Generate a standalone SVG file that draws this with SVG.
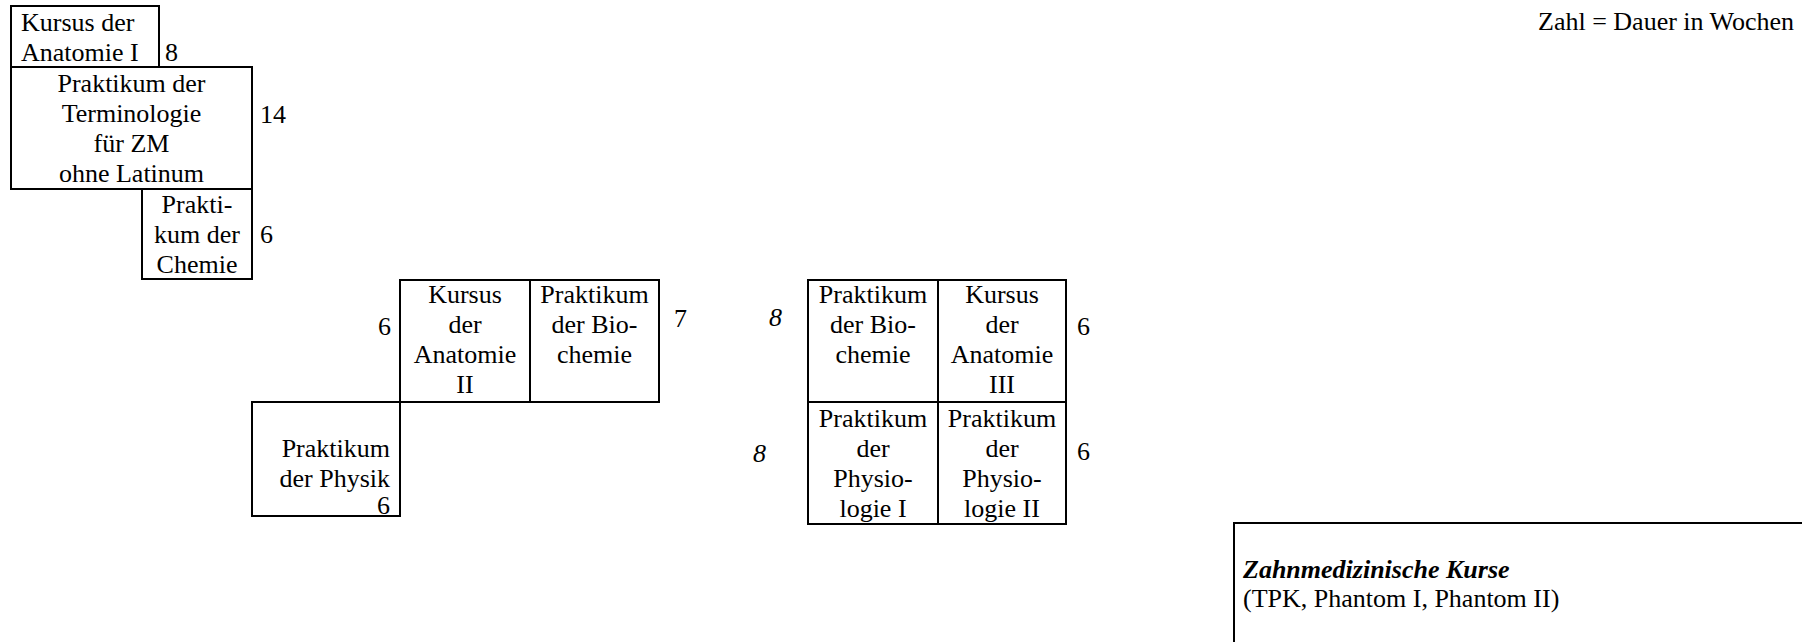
<svg xmlns="http://www.w3.org/2000/svg" width="1802" height="642" viewBox="0 0 1802 642">
<style>
text{font-family:'Liberation Serif','DejaVu Serif',serif;font-size:26px;fill:#000}
.c{text-anchor:middle}
.r{text-anchor:end}
.i{font-style:italic}
.bi{font-style:italic;font-weight:bold}
.box{fill:none;stroke:#000;stroke-width:2}
</style>
<rect width="1802" height="642" fill="#fff"/>
<g font-family="Liberation Serif, DejaVu Serif, serif">
<g id="legend"><text x="1538" y="30">Zahl = Dauer in Wochen</text></g>
<g id="anatomie1">
<rect class="box" x="11" y="6" width="148" height="61"/>
<text x="21" y="31">Kursus der</text>
<text x="21" y="61">Anatomie I</text>
<text x="165" y="61">8</text>
</g>
<g id="terminologie">
<rect class="box" x="11" y="67" width="241" height="122"/>
<text class="c" x="131.5" y="92">Praktikum der</text>
<text class="c" x="131.5" y="122">Terminologie</text>
<text class="c" x="131.5" y="152">für ZM</text>
<text class="c" x="131.5" y="182">ohne Latinum</text>
<text x="260" y="123">14</text>
</g>
<g id="chemie">
<rect class="box" x="142" y="189" width="110" height="90"/>
<text class="c" x="197" y="213">Prakti-</text>
<text class="c" x="197" y="243">kum der</text>
<text class="c" x="197" y="273">Chemie</text>
<text x="260" y="243">6</text>
</g>
<g id="anatomie2">
<rect class="box" x="400" y="280" width="130" height="122"/>
<text class="c" x="465" y="303">Kursus</text>
<text class="c" x="465" y="333">der</text>
<text class="c" x="465" y="363">Anatomie</text>
<text class="c" x="465" y="393">II</text>
<text class="r" x="391" y="335">6</text>
</g>
<g id="biochemie1">
<rect class="box" x="530" y="280" width="129" height="122"/>
<text class="c" x="594.5" y="303">Praktikum</text>
<text class="c" x="594.5" y="333">der Bio-</text>
<text class="c" x="594.5" y="363">chemie</text>
<text x="674" y="327">7</text>
</g>
<g id="physik">
<rect class="box" x="252" y="402" width="148" height="114"/>
<text class="r" x="390" y="457">Praktikum</text>
<text class="r" x="390" y="487">der Physik</text>
<text class="r" x="390" y="514">6</text>
</g>
<g id="biochemie2">
<rect class="box" x="808" y="280" width="130" height="122"/>
<text class="c" x="873" y="303">Praktikum</text>
<text class="c" x="873" y="333">der Bio-</text>
<text class="c" x="873" y="363">chemie</text>
<text class="i" x="769" y="326">8</text>
</g>
<g id="anatomie3">
<rect class="box" x="938" y="280" width="128" height="122"/>
<text class="c" x="1002" y="303">Kursus</text>
<text class="c" x="1002" y="333">der</text>
<text class="c" x="1002" y="363">Anatomie</text>
<text class="c" x="1002" y="393">III</text>
<text x="1077" y="335">6</text>
</g>
<g id="physiologie1">
<rect class="box" x="808" y="402" width="130" height="122"/>
<text class="c" x="873" y="427">Praktikum</text>
<text class="c" x="873" y="457">der</text>
<text class="c" x="873" y="487">Physio-</text>
<text class="c" x="873" y="517">logie I</text>
<text class="i" x="753" y="462">8</text>
</g>
<g id="physiologie2">
<rect class="box" x="938" y="402" width="128" height="122"/>
<text class="c" x="1002" y="427">Praktikum</text>
<text class="c" x="1002" y="457">der</text>
<text class="c" x="1002" y="487">Physio-</text>
<text class="c" x="1002" y="517">logie II</text>
<text x="1077" y="460">6</text>
</g>
<g id="zahnmedizin">
<rect class="box" x="1234" y="523" width="600" height="160"/>
<text class="bi" x="1243" y="578">Zahnmedizinische Kurse</text>
<text x="1243" y="607">(TPK, Phantom I, Phantom II)</text>
</g>
</g>
<g id="connectors"></g>
</svg>
